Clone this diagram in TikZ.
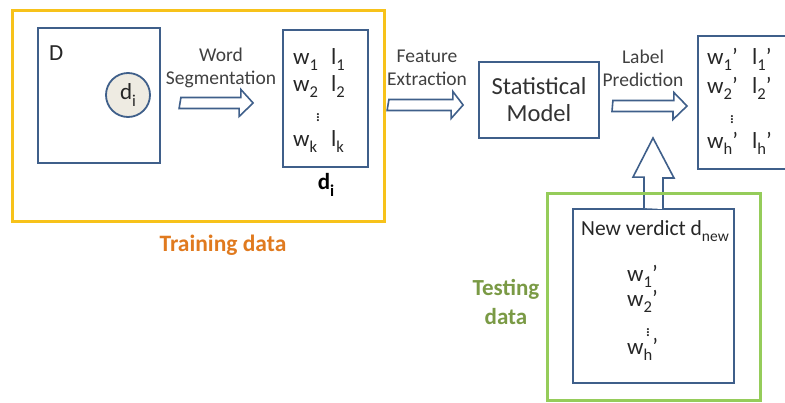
\documentclass[tikz,border=0pt]{standalone}
\usepackage{fontspec}
\setmainfont{Carlito}
\usetikzlibrary{calc}

\definecolor{boxblue}{HTML}{3F5F8A}
\definecolor{frameyellow}{HTML}{F7C21A}
\definecolor{frameorange}{HTML}{E07A1F}
\definecolor{framegreen}{HTML}{95CC5A}
\definecolor{textgreen}{HTML}{7A9A45}
\definecolor{circlefill}{HTML}{EEEBE2}

% lowered index and small vertical ellipsis in body text
\newcommand{\lowidx}[1]{\raisebox{-0.28em}{\scalebox{0.72}{#1}}}
\newcommand{\vdotsmall}{\scalebox{0.75}{$\vdots$}}

\tikzset{
  bluebox/.style={draw=boxblue, line width=1.8pt},
  arrowshape/.style={draw=boxblue, line width=1.6pt, fill=white, line join=miter},
  steptext/.style={font=\fontsize{19.5}{23}\selectfont, text=black!75, align=center, inner sep=0pt},
  itemtext/.style={font=\fontsize{23}{26}\selectfont, text=black!85, inner sep=0pt},
}

\begin{document}
\begin{tikzpicture}[x=1pt, y=-1pt]
  \useasboundingbox (0,0) rectangle (785,402);

  % training frame
  \draw[frameyellow, line width=3pt] (12,10) rectangle (384,221);
  \node[font=\bfseries\fontsize{23.5}{26}\selectfont, text=frameorange] (train) at (223,245) {Training data};

  % corpus D with one verdict
  \node[bluebox, minimum width=122pt, minimum height=135pt, inner sep=0pt] (D) at (99,95.5) {};
  \node[itemtext, anchor=north west] (Dlab) at (49,46) {D};
  \node[circle, draw=boxblue, line width=1.8pt, fill=circlefill, minimum size=44pt, inner sep=0pt, itemtext] (di) at (128,95) {d\lowidx{i}};

  % word/label list of one verdict
  \node[bluebox, minimum width=85pt, minimum height=137pt, inner sep=0pt] (wl) at (325.5,98.5) {};
  \node[itemtext, anchor=base west] (w1) at (293,64) {w\lowidx{1}};
  \node[itemtext, anchor=base west] (l1) at (331,64) {l\lowidx{1}};
  \node[itemtext, anchor=base west] (w2) at (293,91) {w\lowidx{2}};
  \node[itemtext, anchor=base west] (l2) at (331,91) {l\lowidx{2}};
  \node[itemtext] (wldots) at (318,115) {\vdotsmall};
  \node[itemtext, anchor=base west] (wk) at (293,146) {w\lowidx{k}};
  \node[itemtext, anchor=base west] (lk) at (331,146) {l\lowidx{k}};
  \node[font=\bfseries\fontsize{23}{26}\selectfont, inner sep=0pt] (dibold) at (326,185) {d\lowidx{i}};

  % statistical model
  \node[bluebox, minimum width=120pt, minimum height=76pt, inner sep=0pt,
        font=\fontsize{24.5}{27}\selectfont, text=black!80, align=center] (model) at (539,100) {Statistical\\Model};

  % predicted words and labels
  \node[bluebox, minimum width=100pt, minimum height=133pt, inner sep=0pt, anchor=north west] (out) at (697,35) {};
  \node[itemtext, anchor=base west] (o1w) at (707,64) {w\lowidx{1}’};
  \node[itemtext, anchor=base west] (o1l) at (752,64) {l\lowidx{1}’};
  \node[itemtext, anchor=base west] (o2w) at (707,93) {w\lowidx{2}’};
  \node[itemtext, anchor=base west] (o2l) at (752,93) {l\lowidx{2}’};
  \node[itemtext] (odots) at (732,117) {\vdotsmall};
  \node[itemtext, anchor=base west] (ohw) at (707,148) {w\lowidx{h}’};
  \node[itemtext, anchor=base west] (ohl) at (752,148) {l\lowidx{h}’};

  % testing frame and new verdict
  \node[bluebox, minimum width=161pt, minimum height=174pt, inner sep=0pt] (new) at (653.5,296) {};
  \draw[framegreen, line width=3pt] (547.5,400) -- (547.5,193) -- (760.5,193) -- (760.5,400) -- cycle;
  \node[font=\bfseries\fontsize{23}{29}\selectfont, text=textgreen, align=center] (test) at (506,302) {Testing\\data};
  \node[font=\fontsize{21.5}{24}\selectfont, text=black!85, inner sep=0pt, anchor=base] (newlab) at (655,235) {New verdict d\lowidx{new}};
  \node[itemtext, anchor=base west] (n1) at (627,281) {w\lowidx{1}’};
  \node[itemtext, anchor=base west] (n2) at (627,306) {w\lowidx{2}’};
  \node[itemtext] (ndots) at (648,330) {\vdotsmall};
  \node[itemtext, anchor=base west] (nh) at (627,354) {w\lowidx{h}’};

  % step labels
  \node[steptext] (seg) at (221,68) {Word\\Segmentation};
  \node[steptext] (feat) at (427,68) {Feature\\Extraction};
  \node[steptext] (pred) at (643,68) {Label\\Prediction};

  % block arrows between the stages
  \coordinate (a1s) at ($(D.east)+(20,7.5)$);
  \coordinate (a1e) at ($(wl.west)+(-29,4.5)$);
  \draw[arrowshape] (a1s) ++(0,-5.5) -- ++(60,0) -- ++(0,-8) -- (a1e) -- ++(-14,13.5) -- ++(0,-8) -- ++(-60,0) -- cycle;

  \coordinate (a2s) at ($(wl.east)+(20,6.5)$);
  \coordinate (a2e) at ($(model.west)+(-15,5)$);
  \draw[arrowshape] (a2s) ++(0,-5.5) -- ++(64,0) -- ++(0,-8) -- (a2e) -- ++(-12,13.5) -- ++(0,-8) -- ++(-64,0) -- cycle;

  \coordinate (a3s) at ($(model.east)+(13,6)$);
  \coordinate (a3e) at ($(out.west |- model.east)+(-10,6)$);
  \draw[arrowshape] (a3s) ++(0,-5.5) -- ++(61,0) -- ++(0,-8) -- (a3e) -- ++(-14,13.5) -- ++(0,-8) -- ++(-61,0) -- cycle;

  % new verdict feeding the model
  \coordinate (a4s) at ($(new.north)+(-0.5,0)$);
  \coordinate (a4e) at (653,138);
  \draw[arrowshape] (a4s) ++(-9,0) -- ++(0,-31) -- ++(-11,0) -- (a4e) -- ++(21,40) -- ++(-11,0) -- ++(0,31);
  \draw[framegreen, line width=3pt] (547.5,193) -- (760.5,193);
\end{tikzpicture}
\end{document}
